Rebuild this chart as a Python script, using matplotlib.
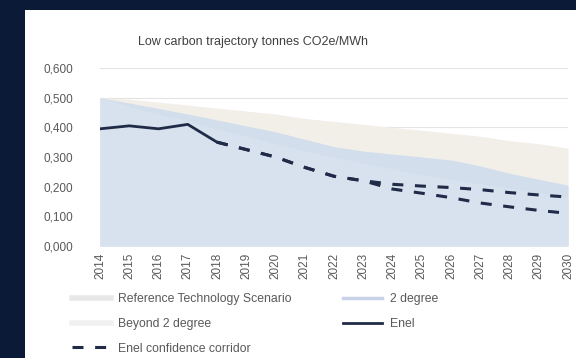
import matplotlib
matplotlib.use("Agg")
import matplotlib.pyplot as plt
from matplotlib.lines import Line2D
from matplotlib.patches import Rectangle
from matplotlib.ticker import FuncFormatter

plt.rcParams['font.family'] = ['Liberation Sans', 'DejaVu Sans']

# tonnes CO2e/MWh, 2014-2030
years = [str(y) for y in range(2014, 2031)]
reference_tech = [0.500, 0.495, 0.485, 0.475, 0.465, 0.455, 0.445, 0.430, 0.420,
                  0.410, 0.400, 0.390, 0.380, 0.370, 0.355, 0.345, 0.330]
two_degree = [0.500, 0.482, 0.464, 0.445, 0.425, 0.405, 0.385, 0.360, 0.335,
              0.320, 0.310, 0.300, 0.290, 0.270, 0.245, 0.225, 0.205]
beyond_two = [0.500, 0.470, 0.445, 0.420, 0.395, 0.370, 0.345, 0.320, 0.300,
              0.280, 0.260, 0.240, 0.225, 0.210, 0.195, 0.180, 0.165]
enel = [0.395, 0.405, 0.395, 0.410, 0.350]
corridor_high = [0.350, 0.325, 0.300, 0.265, 0.235, 0.220, 0.208, 0.202, 0.197,
                 0.190, 0.180, 0.172, 0.165]
corridor_low = [0.350, 0.325, 0.300, 0.265, 0.235, 0.220, 0.192, 0.178, 0.163,
                0.145, 0.132, 0.120, 0.110]

navy = '#0b1a36'
line_col = '#1f2b47'
grey_txt = '#595959'
c_ref = '#f2efe9'
c_2deg = '#d2deec'
c_b2 = '#d8e2ee'

fig = plt.figure(figsize=(5.76, 3.58), dpi=100, facecolor=navy)
# white chart panel on the navy page
fig.patches.append(Rectangle((25 / 576, 0), 1, 348 / 358, transform=fig.transFigure,
                             facecolor='white', edgecolor='none', zorder=-10))

ax = fig.add_axes([100 / 576, 1 - 246 / 358, 468 / 576, 178 / 358])
ax.set_zorder(1)
ax.set_facecolor('none')

x = list(range(len(years)))
ax.fill_between(x, 0, reference_tech, color=c_ref, lw=0, zorder=1)
ax.fill_between(x, 0, two_degree, color=c_2deg, lw=0, zorder=2)
ax.fill_between(x, 0, beyond_two, color=c_b2, lw=0, zorder=3)

ax.plot(x[:len(enel)], enel, color=line_col, lw=2, zorder=5)
xc = x[len(enel) - 1:]
ax.plot(xc, corridor_high, color=line_col, lw=2.2, dashes=(3.6, 3.8), zorder=5)
ax.plot(xc, corridor_low, color=line_col, lw=2.2, dashes=(3.6, 3.8), zorder=5)

ax.set_xlim(0, len(years) - 1)
ax.set_ylim(0, 0.6)
ax.set_yticks([0, 0.1, 0.2, 0.3, 0.4, 0.5, 0.6])
ax.yaxis.set_major_formatter(FuncFormatter(lambda v, p: f"{v:.3f}".replace('.', ',')))
ax.set_xticks(x)
ax.set_xticklabels(years, rotation=90)
ax.tick_params(axis='both', length=0, labelsize=8.5, labelcolor=grey_txt)
ax.tick_params(axis='y', pad=19)
ax.tick_params(axis='x', pad=5)
ax.grid(axis='y', color='#e3e3e3', lw=0.8, zorder=0)
ax.set_axisbelow(True)
for s in ax.spines.values():
    s.set_visible(False)

fig.text(253 / 576, 1 - 42 / 358, 'Low carbon trajectory tonnes CO2e/MWh',
         ha='center', va='center', fontsize=9, color='#404040')

handles = [
    Line2D([], [], color='#e8e8e8', lw=4),
    Line2D([], [], color='#f1f1f1', lw=4),
    Line2D([], [], color=line_col, lw=2.2, dashes=(3.6, 3.8)),
    Line2D([], [], color='#c8d2e8', lw=2.5),
    Line2D([], [], color=line_col, lw=2),
]
labels = ['Reference Technology Scenario', 'Beyond 2 degree', 'Enel confidence corridor',
          '2 degree', 'Enel']
fig.legend(handles, labels, loc='upper left', bbox_to_anchor=(72 / 576, 1 - 293 / 358),
           ncol=2, frameon=False, fontsize=8.8, labelcolor=grey_txt, handlelength=3.2,
           handletextpad=0.6, labelspacing=1.05, columnspacing=4.2, borderaxespad=0,
           borderpad=0)

fig.savefig('out.png', dpi=100, facecolor=navy)
